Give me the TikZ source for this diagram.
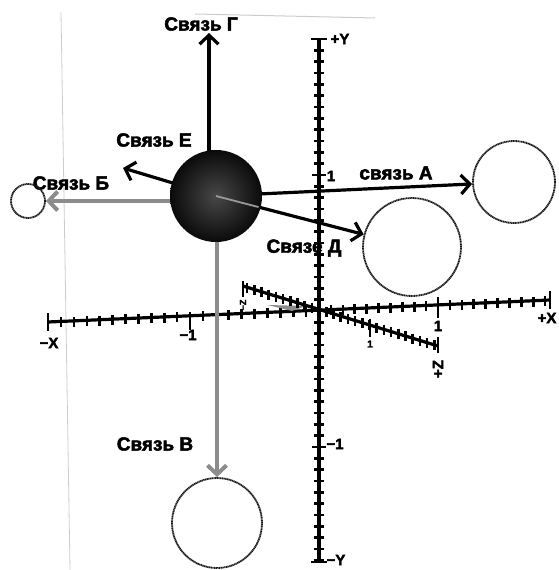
\documentclass[tikz,border=0pt]{standalone}
\usepackage{fontspec}
\setmainfont{Liberation Sans}[BoldFeatures={FakeBold=2.5}]
\usetikzlibrary{arrows.meta,calc}
\tikzset{
  link/.style={line width=3.2pt,-{Straight Barb[length=9pt,width=19pt]}},
  greylink/.style={link,draw=black!45,line width=4pt},
  ghost/.style={circle,draw=black!90,line width=1.8pt,dash pattern=on 1.2pt off 0.5pt,inner sep=0pt},
  lbl/.style={font=\bfseries\fontsize{19}{19}\selectfont,inner sep=0pt},
  axlbl/.style={font=\bfseries\fontsize{15}{15}\selectfont,inner sep=0pt},
  axis/.style={line width=3.2pt},
  tick/.style={line width=2.6pt}
}
\begin{document}
\begin{tikzpicture}[x=1pt,y=-1pt]
\useasboundingbox (0,0) rectangle (558,570);
% faint page edges
\draw[black!20,line width=0.8pt] (61,12) -- (70,570);
\draw[black!20,line width=1pt] (195,14) -- (375,18);
% labels
\node[lbl] (lG) at (201,24) {Связь Г};
\node[lbl] (lE) at (154,140) {Связь Е};
\node[lbl] (lB) at (71,183) {Связь Б};
\node[lbl] (lA) at (396,173) {связь А};
\node[lbl] (lD) at (304,248) {Связе Д};
\node[lbl] (lV) at (155,444) {Связь В};
% y axis
\draw[axis] (319,39) -- (319,562);
\foreach \k in {-22,...,23} \draw[tick] (314,{311-\k*11.33}) -- (324,{311-\k*11.33});
\draw[tick] (311,39) -- (327,39);
\draw[tick] (311,562) -- (327,562);
\draw[tick] (312,175) -- (326,175);
\draw[tick] (312,447) -- (326,447);
\node[axlbl] (yp) at (340,39) {+Y};
\node[axlbl] (y1) at (331,176) {1};
\node[axlbl] (ym1) at (335,444) {−1};
\node[axlbl] (ym) at (336,560) {−Y};
% x axis
\draw[axis] (48,322) -- (550,300);
\foreach \k in {1,...,19} \draw[tick] ({319+\k*11.9},{306-\k*0.52}) -- ({319+\k*11.9},{316-\k*0.52});
\foreach \k in {-21,...,-1} \draw[tick] ({319+\k*12.9},{306-\k*0.565}) -- ({319+\k*12.9},{316-\k*0.565});
\draw[tick] (48,313) -- (48,331);
\draw[tick] (550,291) -- (550,309);
\draw[tick] (438,297) -- (438,318);
\draw[tick] (190,316) -- (190,330);
\node[axlbl] (xm) at (49,343) {−X};
\node[axlbl] (xm1) at (188,335) {−1};
\node[axlbl] (x1) at (438,326) {1};
\node[axlbl] (xp) at (547,318) {+X};
% z axis
\fill[black!45] (268,305) -- (306,306) -- (292,311) -- cycle;
\draw[axis] (243,286) -- (438,346);
\foreach \k in {-10,...,16} \draw[tick] ({319+\k*7.2},{305+\k*2.2}) -- ({319+\k*7.2},{315+\k*2.2});
\draw[tick] (243,281) -- (243,297);
\draw[tick] (438,337) -- (438,353);
\draw[tick] (370,319) -- (370,337);
\node[axlbl,font=\bfseries\fontsize{10}{10}\selectfont] (z1) at (370,344) {1};
\node[axlbl,rotate=90] (zp) at (438,369) {+Z};
\node[axlbl,rotate=90,font=\bfseries\fontsize{9}{9}\selectfont] (zm) at (243,305) {−Z};
% atom and partners
\node[circle,inner sep=0pt,minimum size=92pt] (ball) at (216,196) {};
\node[ghost,minimum size=82pt] (sA) at (514,182) {};
\node[ghost,minimum size=34pt] (sB) at (28,201) {};
\node[ghost,minimum size=90pt] (sV) at (217,523) {};
\node[ghost,minimum size=98pt] (sD) at (412,247) {};
\coordinate (tG) at (209,33);
\coordinate (tE) at (123,168);
% bonds
\draw[link] (tG |- ball.center) -- (tG);
\draw[link] (ball.center) -- (tE);
\draw[greylink] (ball.center |- sB) -- (sB);
\draw[greylink] (sV |- ball.center) -- (sV);
\draw[link] (ball.center) -- (sA);
\draw[link] (ball.center) -- (sD);
\shade[inner color=black!72,outer color=black!96] (ball.center) circle (46pt);
\draw[black!40,line width=1.8pt] (ball.center) -- ($(ball.center)!44pt!(sD)$);
\end{tikzpicture}
\end{document}
